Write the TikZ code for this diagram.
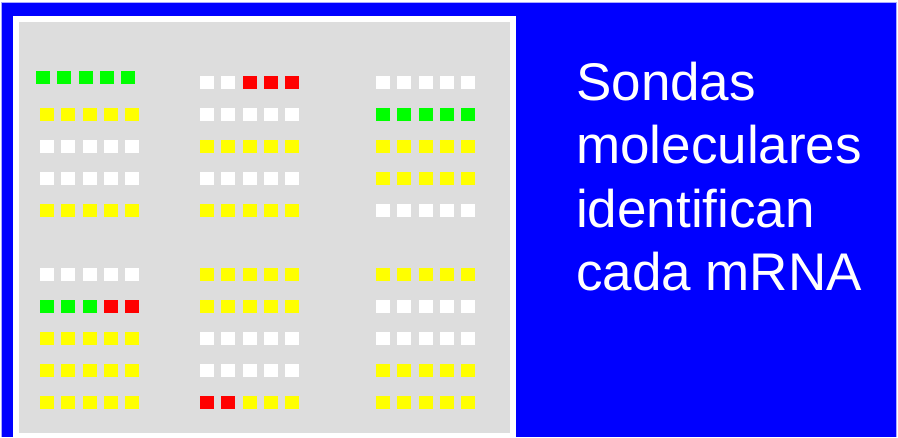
\documentclass[tikz,border=0pt]{standalone}
\usepackage{fontspec}
\setmainfont{Liberation Sans}
\definecolor{bblue}{RGB}{0,0,255}
\definecolor{edgeblue}{RGB}{170,170,255}
\definecolor{panelgray}{RGB}{221,221,221}
\definecolor{cw}{RGB}{255,255,255}
\definecolor{cy}{RGB}{255,255,0}
\definecolor{cg}{RGB}{0,255,0}
\definecolor{cr}{RGB}{255,0,0}
\tikzset{
  label text/.style={anchor=base west, inner sep=0pt, text=white, font=\fontsize{53}{63.5}\selectfont},
}
\newcommand\sqrow[3]{%
  \foreach \c [count=\i from 0] in {#3} {\fill[\c] ({#1+21.25*\i},{-(#2)}) rectangle ++(14,-13);}%
}
\newcommand\sqgrid[7]{% x0, y0, five rows
  \sqrow{#1}{#2}{#3}
  \sqrow{#1}{#2+32}{#4}
  \sqrow{#1}{#2+64}{#5}
  \sqrow{#1}{#2+96}{#6}
  \sqrow{#1}{#2+128}{#7}
}
\begin{document}
\begin{tikzpicture}[x=1pt,y=1pt]
\useasboundingbox (0,0) rectangle (898,-437);
\fill[white] (0,0) rectangle (898,-437);
\fill[edgeblue] (0.5,-2) rectangle (897,-437);
\fill[bblue] (1.5,-3) rectangle (895.5,-437);
\fill[white] (13,-16) rectangle (516,-437);
\fill[panelgray] (19,-22) rectangle (510,-432.5);
% top-left
\sqrow{36}{71}{cg,cg,cg,cg,cg}
\sqrow{40}{108}{cy,cy,cy,cy,cy}
\sqrow{40}{140}{cw,cw,cw,cw,cw}
\sqrow{40}{172}{cw,cw,cw,cw,cw}
\sqrow{40}{204}{cy,cy,cy,cy,cy}
% top-middle
\sqgrid{200}{76}{cw,cw,cr,cr,cr}{cw,cw,cw,cw,cw}{cy,cy,cy,cy,cy}{cw,cw,cw,cw,cw}{cy,cy,cy,cy,cy}
% top-right
\sqgrid{376}{76}{cw,cw,cw,cw,cw}{cg,cg,cg,cg,cg}{cy,cy,cy,cy,cy}{cy,cy,cy,cy,cy}{cw,cw,cw,cw,cw}
% bottom-left
\sqgrid{40}{268}{cw,cw,cw,cw,cw}{cg,cg,cg,cr,cr}{cy,cy,cy,cy,cy}{cy,cy,cy,cy,cy}{cy,cy,cy,cy,cy}
% bottom-middle
\sqgrid{200}{268}{cy,cy,cy,cy,cy}{cy,cy,cy,cy,cy}{cw,cw,cw,cw,cw}{cw,cw,cw,cw,cw}{cr,cr,cy,cy,cy}
% bottom-right
\sqgrid{376}{268}{cy,cy,cy,cy,cy}{cw,cw,cw,cw,cw}{cw,cw,cw,cw,cw}{cy,cy,cy,cy,cy}{cy,cy,cy,cy,cy}
% text
\node[label text] (l1) at (576,-100) {Sondas};
\node[label text] (l2) at (576,-163.5) {moleculares};
\node[label text] (l3) at (576,-227) {identifican};
\node[label text] (l4) at (576,-290.5) {cada mRNA};
\end{tikzpicture}
\end{document}
